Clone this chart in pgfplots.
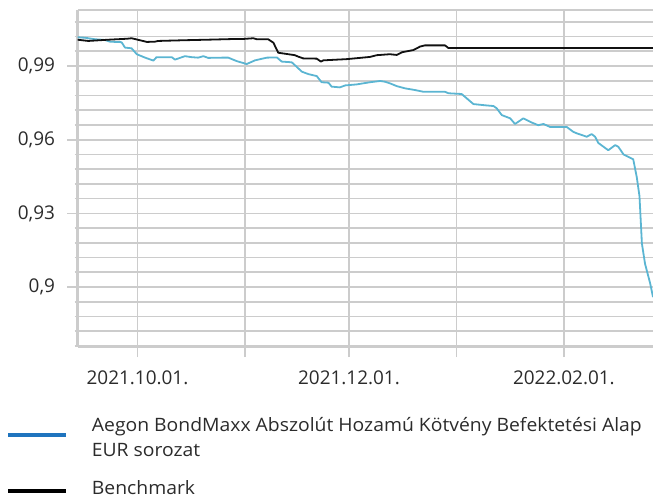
\documentclass[border=0pt]{standalone}
\usepackage{fontspec}
\setmainfont{Open Sans}
\newfontfamily\legfont[FakeStretch=1.05]{Open Sans}
\usepackage{pgfplots}
\usepackage{pgfplotstable}
\pgfplotsset{compat=1.18}
\definecolor{gridc}{HTML}{CCCCCC}
\definecolor{fund}{HTML}{5BB5D2}
\definecolor{legblue}{HTML}{1F74BE}
\definecolor{txt}{HTML}{2B2B2B}
\definecolor{bench}{HTML}{111111}

\pgfplotstableread{
day val
-17.3 1.0017
-15.1 1.0015
-12.3 1.0009
-9.4 1.0006
-7.9 0.9999
-4.6 0.9997
-3.6 0.9975
-1.7 0.9972
-0.2 0.9948
2.2 0.9934
4.6 0.9922
5.5 0.9936
9.9 0.9936
10.8 0.9926
13.7 0.9940
15.6 0.9936
17.5 0.9934
19.0 0.9940
20.4 0.9933
24.3 0.9934
26.2 0.9934
28.6 0.9920
31.5 0.9908
33.9 0.9923
37.3 0.9934
40.2 0.9935
41.6 0.9918
44.5 0.9915
45.9 0.9897
47.4 0.9877
49.3 0.9867
51.7 0.9859
53.1 0.9834
55.1 0.9832
56.0 0.9816
58.4 0.9813
59.9 0.9821
63.2 0.9825
67.1 0.9834
70.0 0.9839
71.4 0.9836
72.9 0.9829
74.8 0.9818
77.2 0.9809
80.1 0.9802
82.5 0.9795
88.7 0.9795
89.7 0.9789
93.5 0.9786
95.0 0.9768
96.9 0.9745
100.3 0.9740
102.7 0.9737
103.6 0.9728
105.1 0.9700
107.5 0.9687
108.9 0.9664
111.3 0.9687
113.7 0.9670
115.6 0.9659
117.1 0.9664
119.0 0.9652
123.8 0.9652
125.7 0.9632
126.7 0.9626
129.6 0.9612
131.0 0.9623
132.0 0.9612
132.9 0.9587
135.8 0.9557
137.8 0.9578
138.7 0.9571
140.2 0.9540
143.0 0.9520
144.0 0.9449
144.8 0.9370
145.5 0.9177
146.4 0.9095
147.9 0.9014
148.7 0.8959
}\fundtable

\pgfplotstableread{
day val
-17.3 1.0007
-14.2 1.0002
-8.5 1.0007
-3.0 1.0011
-1.7 1.0013
-0.2 1.0008
2.7 0.9998
5.0 0.9999
6.0 1.0002
13.7 1.0005
20.0 1.0007
28.1 1.0010
30.4 1.0010
33.4 1.0013
34.4 1.0009
37.7 1.0009
39.2 0.9995
40.6 0.9954
44.0 0.9947
45.4 0.9944
46.4 0.9938
47.8 0.9931
51.7 0.9930
52.9 0.9918
53.6 0.9923
60.4 0.9928
67.1 0.9937
69.0 0.9944
72.8 0.9948
74.8 0.9945
76.3 0.9956
79.6 0.9965
81.5 0.9979
82.9 0.9984
88.7 0.9984
89.7 0.9973
148.7 0.9973
}\benchtable

\begin{document}
\begin{tikzpicture}
\path[use as bounding box] (-77.5bp,-151bp) rectangle (575.5bp,347bp);
\begin{axis}[
  at={(0,0)}, anchor=south west,
  scale only axis, width=575.5bp, height=337bp,
  xmin=-17.3, xmax=148.7, ymin=0.8756, ymax=1.0128,
  axis x line=box, axis y line=left,
  axis line style={-, draw=gridc, line width=2bp},
  xtick={0,31,61,92,123},
  xticklabels={2021.10.01.,,2021.12.01.,,2022.02.01.},
  ytick={0.9,0.93,0.96,0.99},
  yticklabels={{0,9},{0,93},{0,96},{0,99}},
  minor ytick={0.876,0.882,0.888,0.894,0.906,0.912,0.918,0.924,0.936,0.942,0.948,0.954,0.966,0.972,0.978,0.984,0.996,1.002,1.008},
  xtick pos=bottom, ytick pos=left,
  grid=both,
  major grid style={draw=gridc, line width=1.7bp},
  minor grid style={draw=gridc, line width=1.7bp},
  major tick style={draw=gridc, line width=1.7bp},
  minor tick style={draw=gridc, line width=1.7bp},
  major tick length=10bp, minor tick length=3bp,
  tick align=outside,
  ticklabel style={font=\fontsize{19}{22}\selectfont, text=txt},
  yticklabel style={xshift=-9bp},
  xticklabel style={yshift=-10bp},
  /pgf/number format/assume math mode=true,
  clip=true,
]
\addplot[draw=fund, line width=1.8bp, line join=round] table[x=day, y=val] {\fundtable};
\addplot[draw=bench, line width=1.8bp, line join=round] table[x=day, y=val] {\benchtable};
\end{axis}
\draw[legblue, line width=4bp] (-69.2bp,-87.7bp) -- (-11.8bp,-87.7bp);
\draw[black, line width=4bp] (-69.2bp,-143.5bp) -- (-11.8bp,-143.5bp);
\node[anchor=base west, inner sep=0pt, text=txt, font=\legfont\fontsize{18.5}{21.7}\selectfont] at (14.2bp,-84bp) {Aegon BondMaxx Abszolút Hozamú Kötvény Befektetési Alap};
\node[anchor=base west, inner sep=0pt, text=txt, font=\legfont\fontsize{18.5}{21.7}\selectfont] at (14.2bp,-109bp) {EUR sorozat};
\node[anchor=base west, inner sep=0pt, text=txt, font=\legfont\fontsize{18.5}{21.7}\selectfont] at (14.2bp,-147.5bp) {Benchmark};
\end{tikzpicture}
\end{document}
